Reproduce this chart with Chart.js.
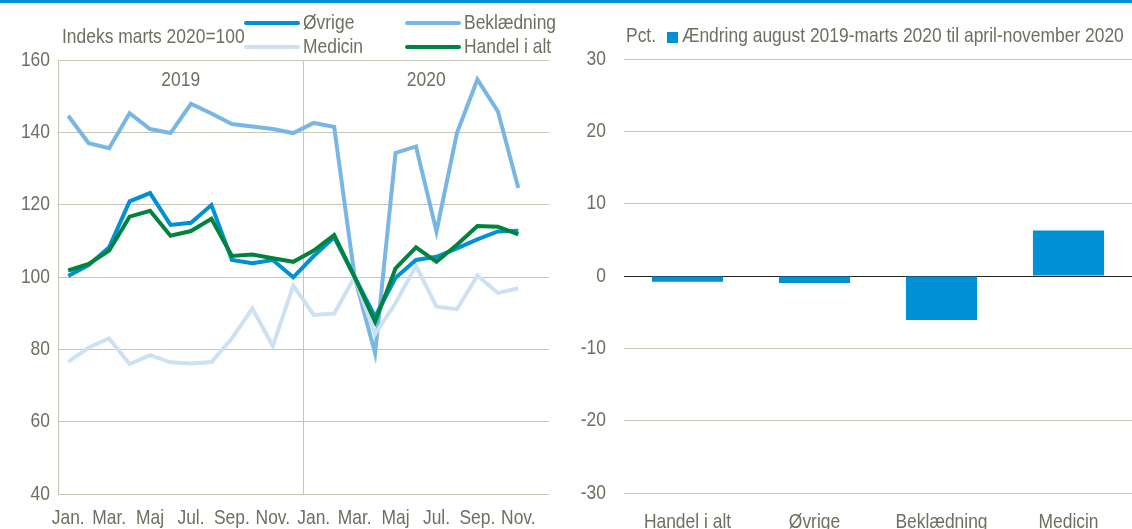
<!DOCTYPE html>
<html>
<head>
<meta charset="utf-8">
<script src="https://cdn.jsdelivr.net/npm/chart.js@4"></script>
<style>
  body { margin: 0; background: #fff; }
  #topline { position: absolute; left: 0; top: 0; width: 1132px; height: 3px; background: #0090d4; }
  #boxLeft { position: absolute; left: 0; top: 0; width: 560px; height: 529px; }
  #boxRight { position: absolute; left: 560px; top: 0; width: 572px; height: 529px; }
</style>
</head>
<body>
<div id="topline"></div>
<div id="boxLeft"><canvas id="left" width="560" height="529"></canvas></div>
<div id="boxRight"><canvas id="right" width="572" height="529"></canvas></div>
<script>
// venstre figur: maanedlige indeks, marts 2020 = 100
var maaneder = ['Jan.','Feb.','Mar.','Apr.','Maj','Jun.','Jul.','Aug.','Sep.','Okt.','Nov.','Dec.',
                'Jan.','Feb.','Mar.','Apr.','Maj','Jun.','Jul.','Aug.','Sep.','Okt.','Nov.','Dec.'];
var aar = ['2019', '2020'];

var oevrige = [100.3, 103.3, 108.2, 120.9, 123.2, 114.4, 115.0, 119.9, 104.7, 103.8, 104.7, 99.9,
               105.8, 111.0, 100, 89.0, 99.8, 104.7, 105.6, 107.9, 110.4, 112.6, 112.8];
var beklaedning = [144.6, 137.0, 135.6, 145.3, 140.9, 139.8, 147.9, 145.2, 142.3, 141.6, 140.9, 139.8,
                   142.6, 141.5, 100, 78.9, 134.3, 136.1, 112.6, 139.8, 154.6, 145.8, 124.6];
var medicin = [76.5, 80.5, 83.0, 75.9, 78.4, 76.4, 76.1, 76.5, 83.0, 91.3, 80.9, 97.6,
               89.5, 89.9, 100, 84.2, 92.8, 103.1, 91.8, 91.1, 100.4, 95.6, 96.9];
var handelIalt = [101.8, 103.6, 107.3, 116.7, 118.3, 111.4, 112.7, 116.1, 105.8, 106.2, 105.2, 104.2,
                  107.3, 111.6, 100, 87.6, 102.4, 108.2, 104.2, 108.9, 114.1, 113.9, 111.8];

// hoejre figur: aendring i pct.
var kategorier = ['Handel i alt', 'Øvrige', 'Beklædning', 'Medicin'];
var aendring = [-0.78, -0.97, -6.1, 6.3];

var FONT = "'Liberation Sans', Arial, sans-serif";
var TXT = '#6f6e60';
var GRID = '#c6c5b6';
var BLAA = '#0090d4';
var SMAL = 0.83; // ingen Arial Narrow her, saa teksten trykkes sammen

Chart.defaults.font.family = FONT;
Chart.defaults.font.size = 21;
Chart.defaults.color = TXT;

// smal skrift: al tekst paa lærredet klemmes vandret om sit ankerpunkt
function smalTekst(canvas) {
  var ctx = canvas.getContext('2d');
  var fill = ctx.fillText;
  var measure = ctx.measureText;
  ctx.fillText = function(t, x, y) {
    this.save();
    this.translate(x, y);
    this.scale(SMAL, 1);
    fill.call(this, t, 0, 0);
    this.restore();
  };
  ctx.measureText = function(t) {
    var m = measure.call(this, t);
    return {
      width: m.width * SMAL,
      actualBoundingBoxAscent: m.actualBoundingBoxAscent,
      actualBoundingBoxDescent: m.actualBoundingBoxDescent,
      actualBoundingBoxLeft: m.actualBoundingBoxLeft * SMAL,
      actualBoundingBoxRight: m.actualBoundingBoxRight * SMAL
    };
  };
  return canvas;
}

var venstreTekst = {
  id: 'venstreTekst',
  afterDraw: function(chart) {
    var c = chart.ctx;
    var x = chart.scales.x;
    c.save();
    c.font = '21px ' + FONT;
    c.fillStyle = TXT;
    c.textBaseline = 'middle';
    c.textAlign = 'left';
    c.fillText('Indeks marts 2020=100', 62, 37);

    // legend i to kolonner
    var pos = {
      'Øvrige': [246, 23], 'Beklædning': [407, 23],
      'Medicin': [246, 47], 'Handel i alt': [407, 47]
    };
    chart.data.datasets.forEach(function(ds) {
      var p = pos[ds.label];
      c.strokeStyle = ds.borderColor;
      c.lineWidth = 4;
      c.lineCap = 'round';
      c.beginPath();
      c.moveTo(p[0], p[1]);
      c.lineTo(p[0] + 52, p[1]);
      c.stroke();
      c.fillText(ds.label, p[0] + 57, p[1]);
    });

    // aarstal over hver halvdel
    c.textAlign = 'center';
    var halv = (x.getPixelForValue(1) - x.getPixelForValue(0)) / 2;
    aar.forEach(function(a, i) {
      var x0 = x.getPixelForValue(i * 12) - halv;
      var x1 = x.getPixelForValue(i * 12 + 11) + halv;
      c.fillText(a, (x0 + x1) / 2, 80);
    });
    c.restore();
  }
};

new Chart(smalTekst(document.getElementById('left')), {
  type: 'line',
  data: {
    labels: maaneder,
    datasets: [
      { label: 'Handel i alt', data: handelIalt, borderColor: '#00843d' },
      { label: 'Øvrige', data: oevrige, borderColor: BLAA },
      { label: 'Medicin', data: medicin, borderColor: '#cde1f5' },
      { label: 'Beklædning', data: beklaedning, borderColor: '#78b7e5' }
    ]
  },
  options: {
    responsive: false,
    animation: false,
    layout: { padding: { top: 60, right: 11, left: 0, bottom: 0 } },
    elements: {
      line: { borderWidth: 4, tension: 0, borderJoinStyle: 'miter' },
      point: { radius: 0 }
    },
    plugins: { legend: { display: false }, tooltip: { enabled: false } },
    scales: {
      x: {
        offset: true,
        afterFit: function(s) { s.height = 35; },
        grid: {
          offset: true,
          drawTicks: false,
          color: function(ctx) { return ctx.index % 12 === 0 ? GRID : 'rgba(0,0,0,0)'; }
        },
        border: { display: false },
        ticks: {
          autoSkip: false, maxRotation: 0, padding: 12,
          callback: function(v, i) { return i % 2 === 0 ? maaneder[i] : ''; }
        }
      },
      y: {
        min: 40, max: 160,
        afterFit: function(s) { s.width = 58; },
        grid: { color: GRID, drawTicks: false },
        border: { color: GRID },
        ticks: { stepSize: 20, padding: 8 }
      }
    }
  },
  plugins: [venstreTekst]
});

var hoejreTekst = {
  id: 'hoejreTekst',
  afterDraw: function(chart) {
    var c = chart.ctx;
    c.save();
    c.font = '21px ' + FONT;
    c.fillStyle = TXT;
    c.textBaseline = 'middle';
    c.textAlign = 'left';
    c.fillText('Pct.', 66, 36);
    c.fillStyle = chart.data.datasets[0].backgroundColor;
    c.fillRect(107, 32, 11, 11);
    c.fillStyle = TXT;
    c.fillText(chart.data.datasets[0].label, 122, 36);
    c.restore();
  }
};

new Chart(smalTekst(document.getElementById('right')), {
  type: 'bar',
  data: {
    labels: kategorier,
    datasets: [
      { label: 'Ændring august 2019-marts 2020 til april-november 2020', data: aendring,
        backgroundColor: BLAA, categoryPercentage: 1, barPercentage: 0.56 }
    ]
  },
  options: {
    responsive: false,
    animation: false,
    layout: { padding: { top: 59, right: 0, left: 0, bottom: 0 } },
    plugins: { legend: { display: false }, tooltip: { enabled: false } },
    scales: {
      x: {
        afterFit: function(s) { s.height = 36; },
        grid: { display: false },
        border: { display: false },
        ticks: { padding: 9 }
      },
      y: {
        min: -30, max: 30,
        afterFit: function(s) { s.width = 64; },
        grid: {
          drawTicks: false,
          color: function(ctx) { return ctx.tick && ctx.tick.value === 0 ? '#222' : GRID; }
        },
        border: { display: false },
        ticks: { stepSize: 10, padding: 18 }
      }
    }
  },
  plugins: [hoejreTekst]
});
</script>
</body>
</html>
